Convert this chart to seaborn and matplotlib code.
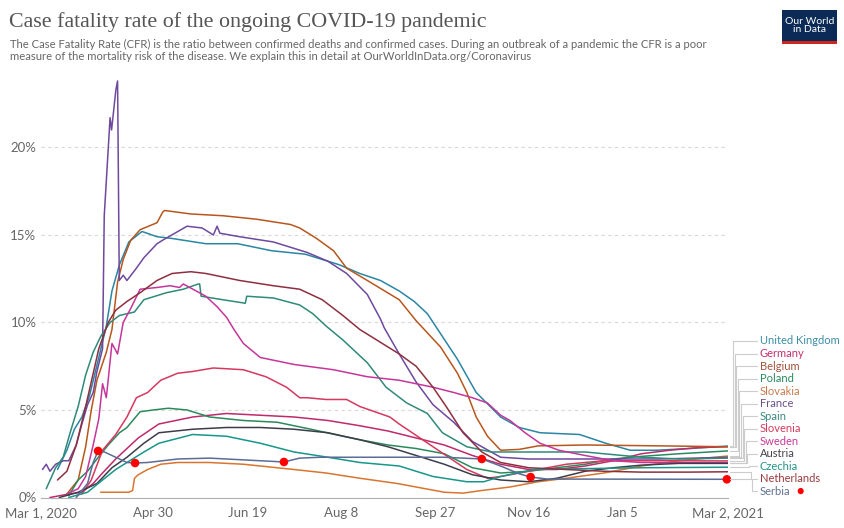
import pandas as pd
import matplotlib
matplotlib.use("Agg")
import matplotlib.pyplot as plt
import matplotlib.dates as mdates
from matplotlib.lines import Line2D
from matplotlib.patches import Rectangle
import seaborn as sns

# Data (days after 1 Mar 2020, CFR in %)
start = pd.Timestamp("2020-03-01")

uk_days = [9, 14, 18, 22, 26, 31, 35, 38, 42, 47, 54, 62, 70, 88, 105, 123, 141, 159, 170, 181,
           191, 199, 206, 214, 222, 232, 245, 255, 266, 287, 301, 314, 328, 346, 366]
uk_cfr = [1.6, 2.7, 3.9, 4.6, 5.8, 8.0, 9.8, 11.8, 13.3, 14.6, 15.2, 14.9, 14.8, 14.5, 14.5, 14.1, 13.9, 13.3, 12.8, 12.4,
          11.8, 11.2, 10.5, 9.2, 7.9, 6.0, 4.6, 4.0, 3.7, 3.6, 3.1, 2.7, 2.7, 2.8, 2.94]

germany_days = [5, 15, 22, 28, 33, 40, 46, 52, 63, 81, 99, 117, 135, 153, 170, 185, 200, 215, 230, 245,
                260, 275, 290, 305, 320, 335, 350, 366]
germany_cfr = [0.0, 0.2, 0.3, 0.8, 1.4, 2.2, 2.8, 3.4, 4.2, 4.6, 4.8, 4.7, 4.6, 4.4, 4.1, 3.8, 3.4, 3.0, 2.4, 1.9,
               1.6, 1.6, 1.8, 2.1, 2.5, 2.7, 2.85, 2.9]

belgium_days = [14, 20, 24, 27, 30, 35, 38, 41, 44, 48, 53, 62, 65, 66, 80, 97, 115, 133, 138, 147,
                156, 163, 174, 191, 200, 213, 222, 227, 232, 238, 245, 255, 265, 290, 330, 366]
belgium_cfr = [0.2, 1.0, 2.9, 5.0, 6.7, 8.3, 9.6, 12.3, 13.6, 14.7, 15.3, 15.7, 16.3, 16.4, 16.2, 16.1, 15.9, 15.6, 15.4, 14.8,
               14.1, 13.1, 12.4, 11.3, 10.1, 8.6, 7.1, 6.0, 4.6, 3.5, 2.7, 2.75, 2.95, 3.0, 2.95, 2.9]

poland_days = [15, 20, 25, 30, 36, 42, 46, 53, 60, 68, 78, 90, 108, 126, 144, 161, 170, 185, 200, 215,
               230, 245, 260, 275, 290, 305, 320, 340, 366]
poland_cfr = [0.1, 1.0, 1.5, 2.2, 3.0, 3.7, 4.0, 4.9, 5.0, 5.1, 5.0, 4.6, 4.4, 4.3, 3.9, 3.5, 3.3, 3.0, 2.8, 2.5,
              1.7, 1.4, 1.5, 1.7, 1.9, 2.2, 2.35, 2.5, 2.66]

slovakia_days = [32, 47, 49, 50, 52, 57, 64, 73, 90, 108, 126, 135, 152, 170, 190, 205, 215, 225, 235, 250,
                 265, 280, 300, 320, 340, 366]
slovakia_cfr = [0.3, 0.3, 0.4, 1.1, 1.3, 1.6, 1.9, 2.0, 2.0, 1.9, 1.7, 1.6, 1.4, 1.1, 0.8, 0.5, 0.3, 0.25, 0.4, 0.6,
                0.9, 1.1, 1.4, 1.8, 2.1, 2.37]

france_days = [1, 3, 5, 8, 12, 15, 19, 22, 25, 28, 30, 33, 33.9, 37, 37.8, 40.1, 41, 41.9, 44, 46,
               51, 55, 62, 65, 78, 86, 92, 94, 95.5, 106, 124, 142, 153, 163, 174, 181, 183, 191, 200, 209,
               220, 230, 245, 260, 300, 330, 366]
france_cfr = [1.6, 1.9, 1.5, 1.9, 2.1, 2.1, 3.0, 4.2, 5.3, 6.0, 7.2, 8.5, 16.1, 21.7, 21.0, 23.3, 23.8, 12.4, 12.7, 12.4,
              13.1, 13.7, 14.5, 14.7, 15.5, 15.4, 15.0, 15.5, 15.1, 14.9, 14.6, 14.0, 13.5, 12.8, 11.6, 10.2, 9.7, 8.2, 6.6, 5.3,
              4.3, 3.2, 2.3, 2.2, 2.2, 2.2, 2.3]

spain_days = [3, 8, 12, 16, 20, 24, 28, 32, 37, 42, 50, 55, 67, 76, 84, 84.7, 85.5, 97, 109, 109.8,
              124, 138, 145, 152, 161, 174, 184, 195, 206, 214, 227, 240, 260, 290, 320, 340, 366]
spain_cfr = [0.5, 1.7, 2.3, 3.8, 5.2, 7.0, 8.3, 9.2, 10.0, 10.4, 10.6, 11.3, 11.7, 11.9, 12.2, 12.2, 11.5, 11.3, 11.1, 11.5,
             11.4, 11.0, 10.5, 9.8, 9.0, 7.7, 6.3, 5.4, 4.8, 3.7, 2.9, 2.6, 2.6, 2.6, 2.3, 2.2, 2.25]

slovenia_days = [22, 27, 33, 40, 46, 51, 57, 64, 73, 81, 92, 108, 120, 131, 138, 142, 152, 163, 170, 186,
                 191, 209, 227, 238, 245, 260, 280, 300, 330, 366]
slovenia_cfr = [0.2, 1.0, 2.7, 3.6, 4.6, 5.7, 6.0, 6.7, 7.1, 7.2, 7.4, 7.3, 6.9, 6.3, 5.7, 5.7, 5.6, 5.6, 5.2, 4.6,
                4.2, 2.9, 1.6, 1.1, 1.2, 1.5, 1.9, 2.1, 2.1, 2.09]

sweden_days = [14, 20, 24, 28, 31, 33, 35, 38, 41, 44, 48, 53, 62, 69, 74, 76, 88, 94, 99, 103,
               108, 117, 135, 156, 174, 191, 209, 220, 230, 238, 245, 250, 258, 266, 276, 290, 305, 320, 340, 366]
sweden_cfr = [0.2, 0.5, 1.2, 3.0, 4.5, 6.5, 5.7, 8.8, 8.2, 10.0, 10.8, 11.9, 12.0, 12.1, 12.0, 12.2, 11.5, 10.9, 10.3, 9.6,
              8.8, 8.0, 7.6, 7.3, 6.9, 6.7, 6.3, 6.0, 5.7, 5.4, 4.7, 4.4, 3.7, 3.1, 2.7, 2.4, 2.1, 2.0, 1.99, 1.99]

austria_days = [10, 20, 30, 38, 46, 55, 63, 81, 99, 117, 135, 153, 170, 185, 200, 215, 230, 245, 260, 275,
                290, 305, 320, 340, 366]
austria_cfr = [0.0, 0.3, 0.8, 1.7, 2.3, 3.1, 3.7, 3.9, 4.0, 4.0, 3.9, 3.7, 3.3, 2.9, 2.4, 1.9, 1.3, 1.0, 0.9, 1.1,
               1.5, 1.7, 1.85, 1.95, 1.95]

czechia_days = [15, 25, 33, 40, 46, 55, 63, 81, 99, 117, 135, 153, 170, 191, 209, 227, 236, 245, 263, 290,
                320, 366]
czechia_cfr = [0.0, 0.3, 1.0, 1.6, 2.0, 2.6, 3.1, 3.6, 3.5, 3.1, 2.6, 2.3, 2.0, 1.8, 1.2, 0.9, 0.9, 1.2, 1.6, 1.65,
               1.7, 1.73]

netherlands_days = [9, 14, 19, 24, 31, 36, 40, 46, 53, 62, 70, 80, 88, 106, 124, 138, 150, 161, 170, 182,
                    191, 200, 209, 216, 225, 235, 245, 260, 280, 300, 320, 345, 366]
netherlands_cfr = [1.0, 1.5, 3.0, 5.2, 8.5, 10.0, 10.7, 11.2, 11.7, 12.4, 12.8, 12.9, 12.8, 12.4, 12.1, 11.9, 11.3, 10.4, 9.6, 8.8,
                   8.2, 7.5, 6.3, 5.2, 3.7, 2.6, 2.0, 1.7, 1.6, 1.5, 1.45, 1.45, 1.47]

serbia_days = [19, 25, 28, 30.6, 34, 38, 46, 50.3, 57, 73, 90, 108, 129.6, 138, 149, 170, 191, 215, 235, 245,
               255, 261, 270, 300, 366]
serbia_cfr = [0.0, 0.8, 2.0, 2.66, 2.6, 2.4, 2.0, 1.97, 2.0, 2.2, 2.25, 2.15, 2.03, 2.25, 2.3, 2.3, 2.3, 2.3, 2.2, 1.8,
              1.35, 1.17, 1.05, 1.05, 1.04]

# highlighted points (red dots)
dot_days = [30.6, 50.3, 129.6, 235, 261, 365.5]
dot_cfr = [2.66, 1.97, 2.03, 2.2, 1.17, 1.04]

countries = ["United Kingdom", "Germany", "Belgium", "Poland", "Slovakia", "France", "Spain",
             "Slovenia", "Sweden", "Austria", "Czechia", "Netherlands", "Serbia"]
colors = ["#2a86a3", "#bf2a6c", "#b8561e", "#2a8a5c", "#d9752f", "#6e499e", "#2f8a78",
          "#d6385e", "#c5369a", "#3d3d4a", "#17978a", "#8e2f3f", "#5b6d96"]
label_colors = ["#3d8ea6", "#c2306f", "#a3533a", "#2c8a5e", "#c97a4c", "#6a4f8c", "#3d8a7c",
                "#d23c5d", "#c7399b", "#444450", "#23958a", "#9a3a3f", "#5f7196"]

tick_dates = ["2020-03-01", "2020-04-30", "2020-06-19", "2020-08-08", "2020-09-27",
              "2020-11-16", "2021-01-05", "2021-03-02"]
tick_labels = ["Mar 1, 2020", "Apr 30", "Jun 19", "Aug 8", "Sep 27", "Nov 16", "Jan 5", "Mar 2, 2021"]
y_ticks = [0, 5, 10, 15, 20]

all_days = [uk_days, germany_days, belgium_days, poland_days, slovakia_days, france_days, spain_days,
            slovenia_days, sweden_days, austria_days, czechia_days, netherlands_days, serbia_days]
all_cfr = [uk_cfr, germany_cfr, belgium_cfr, poland_cfr, slovakia_cfr, france_cfr, spain_cfr,
           slovenia_cfr, sweden_cfr, austria_cfr, czechia_cfr, netherlands_cfr, serbia_cfr]

frames = []
for name, d, v in zip(countries, all_days, all_cfr):
    frames.append(pd.DataFrame({"country": name, "day": d, "cfr": v}))
df = pd.concat(frames, ignore_index=True)
df["date"] = start + pd.to_timedelta(df["day"], unit="D")

dots = pd.DataFrame({"date": start + pd.to_timedelta(dot_days, unit="D"), "cfr": dot_cfr})

# Style
sns.set_style("white")
plt.rcParams["font.family"] = ["Lato", "DejaVu Sans"]

W, H = 845, 528
fig = plt.figure(figsize=(W / 100, H / 100), dpi=100)
ax = fig.add_axes([40.6 / W, (H - 497.5) / H, (727.8 - 40.6) / W, (497.5 - 75) / H])

sns.lineplot(data=df, x="date", y="cfr", hue="country", hue_order=countries,
             palette=colors, estimator=None, legend=False, linewidth=1.1, ax=ax)
sns.scatterplot(data=dots, x="date", y="cfr", color="#ff0000", s=38, edgecolor="none",
                zorder=5, clip_on=False, ax=ax)

ax.set_xlim(start, start + pd.Timedelta(days=366))
ax.set_ylim(0, 24.14)
ax.set_xlabel("")
ax.set_ylabel("")

ax.set_xticks(pd.to_datetime(tick_dates))
ax.set_xticklabels(tick_labels)
ax.set_yticks(y_ticks)
ax.set_yticklabels([f"{t}%" for t in y_ticks])

ax.yaxis.grid(True, linestyle=(0, (3, 3)), color="#d9d9d9", linewidth=0.8)
ax.xaxis.grid(False)
for s in ["top", "right", "left"]:
    ax.spines[s].set_visible(False)
ax.spines["bottom"].set_color("#b0b0b0")
ax.spines["bottom"].set_linewidth(0.8)
ax.tick_params(axis="y", length=0, pad=3, labelsize=9.5, labelcolor="#666666")
ax.tick_params(axis="x", length=4, width=0.8, color="#c0c0c0", pad=3,
               labelsize=9.5, labelcolor="#666666")

# Right-hand labels with connector lines
fig.canvas.draw()
for i, (name, d, v) in enumerate(zip(countries, all_days, all_cfr)):
    end = ax.transData.transform((mdates.date2num(start + pd.Timedelta(days=d[-1])), v[-1]))
    y_end = end[1] / H
    y_lab = 1 - (341 + i * 12.53) / H
    xv = (733 + i * 1.6) / W
    fig.add_artist(Line2D([(end[0] + 2) / W, xv, xv, 757 / W], [y_end, y_end, y_lab, y_lab],
                          transform=fig.transFigure, color="#cccccc", linewidth=0.8))
    fig.text(760 / W, y_lab, name, color=label_colors[i], fontsize=8, va="center", ha="left")
fig.text(800 / W, 1 - 491 / H, "\u25cf", color="#ff0000", fontsize=9, va="center", ha="center")

# Title and subtitle
fig.text(9 / W, 1 - 22 / H, "Case fatality rate of the ongoing COVID-19 pandemic",
         family=["Liberation Serif", "DejaVu Serif"], fontsize=15.8, color="#555555", va="center")
fig.text(10 / W, 1 - 44 / H,
         "The Case Fatality Rate (CFR) is the ratio between confirmed deaths and confirmed cases. "
         "During an outbreak of a pandemic the CFR is a poor", fontsize=8.15, color="#666666", va="center")
fig.text(10 / W, 1 - 57 / H,
         "measure of the mortality risk of the disease. We explain this in detail at "
         "OurWorldInData.org/Coronavirus", fontsize=8.15, color="#666666", va="center")

# Logo
fig.add_artist(Rectangle((782 / W, 1 - 44 / H), 55 / W, 34 / H, transform=fig.transFigure,
                         facecolor="#0b2a55", edgecolor="none"))
fig.add_artist(Rectangle((782 / W, 1 - 44 / H), 55 / W, 3 / H, transform=fig.transFigure,
                         facecolor="#ce261e", edgecolor="none"))
fig.text(809.5 / W, 1 - 25.5 / H, "Our World\nin Data", color="white", fontsize=7.5,
         ha="center", va="center", linespacing=1.0)

fig.savefig("out.png", dpi=100)
